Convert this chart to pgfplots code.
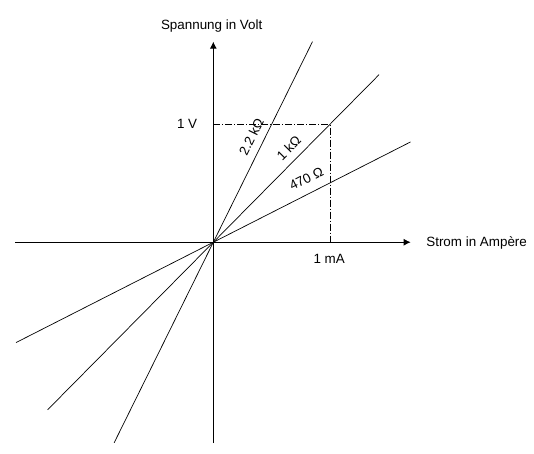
\documentclass[border=0pt]{standalone}
\usepackage{fontspec}
\setmainfont{Liberation Sans}
\usepackage{pgfplots}
\pgfplotsset{compat=1.18}
\usetikzlibrary{arrows.meta}
\begin{document}
\begin{tikzpicture}[lbl/.style={font=\fontsize{13.4bp}{15bp}\selectfont, inner sep=0pt}]
\begin{axis}[
 x=116.7bp, y=118bp,
 xmin=-1.699, xmax=1.691, ymin=-1.703, ymax=1.70,
 axis lines=middle,
 axis line style={line width=0.9bp, -{Latex[length=7bp,width=7bp]}},
 xtick=\empty, ytick=\empty,
 clip=false,
]
\addplot[black, line width=0.7bp] coordinates {(-0.85,-1.70) (0.85,1.70)};
\addplot[black, line width=0.7bp] coordinates {(-1.42,-1.42) (1.42,1.42)};
\addplot[black, line width=0.7bp] coordinates {(-1.69,-0.85) (1.69,0.85)};
\addplot[black, line width=0.7bp, dash pattern=on 7bp off 2bp on 1bp off 2bp] coordinates {(0,1) (1,1) (1,0)};
\node[lbl, anchor=base] at (axis cs:-0.014,1.805) {Spannung in Volt};
\node[lbl, anchor=base west] at (axis cs:1.824,-0.037) {Strom in Ampère};
\node[lbl, anchor=base east] at (axis cs:-0.137,0.966) {1 V};
\node[lbl, anchor=base] at (axis cs:0.993,-0.178) {1 mA};
\node[lbl, rotate=63.7] at (axis cs:0.325,0.897) {2.2 kΩ};
\node[lbl, rotate=45.3] at (axis cs:0.646,0.800) {1 kΩ};
\node[lbl, rotate=26.8] at (axis cs:0.797,0.540) {470 Ω};
\coordinate (BL) at (axis cs:-1.828,-1.794);
\coordinate (TR) at (axis cs:2.748,2.053);
\end{axis}
\pgfresetboundingbox
\path[use as bounding box] (BL) rectangle (TR);
\end{tikzpicture}
\end{document}
